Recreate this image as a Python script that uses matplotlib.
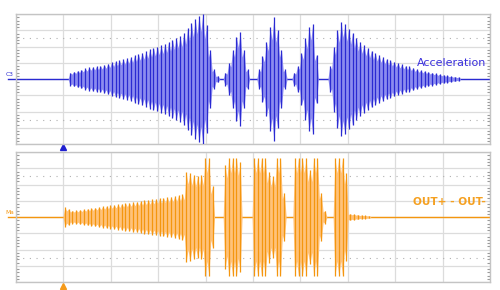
import numpy as np
import matplotlib
matplotlib.use("Agg")
import matplotlib.pyplot as plt

# scope settings (time and volts in divisions)
TRIGGER_DIV = 1.0
CYCLE_DIV = 0.08

# Acceleration (C3): burst start times and peak amplitude of each cycle
acc_starts = [1.10, 4.37, 5.08, 5.82, 6.58]
acc_b1 = [0.40, 0.46, 0.52, 0.58, 0.65, 0.72, 0.75, 0.78, 0.82, 0.88,
          0.95, 1.03, 1.10, 1.16, 1.22, 1.29, 1.36, 1.45, 1.54, 1.62,
          1.70, 1.82, 1.90, 1.99, 2.08, 2.18, 2.30, 2.42, 2.54, 2.64,
          2.85, 3.15, 3.45, 3.70, 3.90, 4.00, 3.30, 1.80, 0.60, 0.20]
acc_b2 = [0.40, 1.00, 1.80, 2.60, 2.90, 1.80, 0.60]
acc_b3 = [0.60, 1.40, 2.30, 3.20, 3.80, 3.00, 1.80, 0.60]
acc_b4 = [0.40, 0.80, 1.60, 2.50, 3.20, 3.40, 1.50]
acc_b5 = [0.80, 2.00, 3.00, 3.50, 3.40, 3.10, 2.85, 2.55, 2.30, 2.10,
          1.90, 1.75, 1.60, 1.48, 1.36, 1.25, 1.15, 1.07, 0.98, 0.90,
          0.83, 0.77, 0.70, 0.62, 0.55, 0.50, 0.45, 0.40, 0.35, 0.30,
          0.26, 0.22, 0.18, 0.15, 0.12]

# OUT+ - OUT- (Ma): burst start times and peak amplitude of each cycle
out_starts = [0.99, 4.37, 4.98, 5.84, 6.69]
out_b1 = [0.60, 0.50, 0.40, 0.42, 0.45, 0.48, 0.52, 0.55, 0.58, 0.62,
          0.65, 0.68, 0.72, 0.75, 0.78, 0.82, 0.85, 0.88, 0.92, 0.95,
          0.98, 1.02, 1.05, 1.08, 1.12, 1.15, 1.19, 1.22, 1.26, 1.30,
          1.34, 1.40, 2.75, 2.70, 2.60, 2.50, 2.60, 3.62, 3.62, 1.90]
out_b2 = [3.20, 3.62, 3.62, 3.62, 3.40]
out_b3 = [3.62, 3.62, 3.62, 3.62, 2.80, 2.50, 3.62, 3.62, 1.50]
out_b4 = [3.62, 3.62, 3.62, 3.62, 2.90, 3.62, 3.62, 1.50, 0.40]
out_b5 = [3.62, 3.62, 3.62, 2.70, 0.20, 0.18, 0.15, 0.12, 0.10, 0.08]

BLUE_DARK, BLUE_LIGHT = "#2a2ad2", "#8c8cef"
ORANGE_DARK, ORANGE_LIGHT = "#f4960f", "#ffc27a"


def draw_channel(ax, starts, bursts, dark, light):
    ax.axhline(0, color=dark, lw=1.0, zorder=2)
    for s, amps in zip(starts, bursts):
        n = len(amps)
        env = np.array(amps)
        xc = s + (np.arange(n) + 0.5) * CYCLE_DIV
        # jagged light body: full height at each stroke, dipping in between
        dips = 0.75 * np.minimum(env, np.r_[env[1:], 0])
        px = np.r_[s, np.column_stack([xc, xc + CYCLE_DIV / 2]).ravel()]
        py = np.r_[0, np.column_stack([env, dips]).ravel()]
        ax.fill_between(px, -py, py, color=light, lw=0, zorder=2)
        ax.vlines(xc, -env, env, color=dark, lw=0.9, zorder=3)


def style_panel(ax):
    ax.set_xlim(0, 10)
    ax.set_ylim(-4, 4)
    ax.set_xticks(range(11))
    ax.set_yticks(range(-4, 5))
    ax.set_yticks(np.arange(-4, 4.01, 0.2), minor=True)
    ax.grid(True, which="major", color="#dcdcdc", lw=0.9)
    ax.set_axisbelow(True)
    ax.tick_params(which="both", labelleft=False, labelbottom=False, length=0)
    ax.tick_params(axis="y", which="minor", length=2, direction="in",
                   left=True, right=True, color="#9a9a9a", width=0.8)
    for yv in (-2.5, 2.5):
        ax.axhline(yv, color="#b0b0b0", lw=0.8, ls=(0, (1, 5)), zorder=1)
    for sp in ax.spines.values():
        sp.set_color("#c4c4c4")
        sp.set_linewidth(1.0)


fig = plt.figure(figsize=(5, 2.9), dpi=100)
ax1 = fig.add_axes([16 / 500, 1 - 144 / 290, 474 / 500, 130 / 290])
ax2 = fig.add_axes([16 / 500, 1 - 282 / 290, 474 / 500, 130 / 290])

for ax in (ax1, ax2):
    style_panel(ax)

draw_channel(ax1, acc_starts, [acc_b1, acc_b2, acc_b3, acc_b4, acc_b5], BLUE_DARK, BLUE_LIGHT)
draw_channel(ax2, out_starts, [out_b1, out_b2, out_b3, out_b4, out_b5], ORANGE_DARK, ORANGE_LIGHT)

ax1.text(9.92, 1.0, "Acceleration", color="#3a2fdc", fontsize=8,
         ha="right", va="center", zorder=5)
ax2.text(9.92, 0.92, "OUT+ - OUT-", color="#f5a020", fontsize=7.6,
         fontweight="bold", ha="right", va="center", zorder=5)

# channel labels and level markers at the left edge
for ax, label, col in ((ax1, "C3", BLUE_DARK), (ax2, "Ma", ORANGE_DARK)):
    ax.plot([-0.017, 0.0], [0, 0], color=col, lw=1.0, clip_on=False,
            transform=ax.get_yaxis_transform())
    ax.text(-0.013, 0.28, label, color=col, fontsize=4.2, ha="center",
            va="center", transform=ax.get_yaxis_transform(), clip_on=False)

# trigger markers
ax1.plot([TRIGGER_DIV], [-0.024], marker="^", ms=4, color="#2020d0", lw=0,
         transform=ax1.get_xaxis_transform(), clip_on=False)
ax2.plot([TRIGGER_DIV], [-0.031], marker="^", ms=4, color="#f59a1a", lw=0,
         transform=ax2.get_xaxis_transform(), clip_on=False)

fig.savefig("out.png", dpi=100)
